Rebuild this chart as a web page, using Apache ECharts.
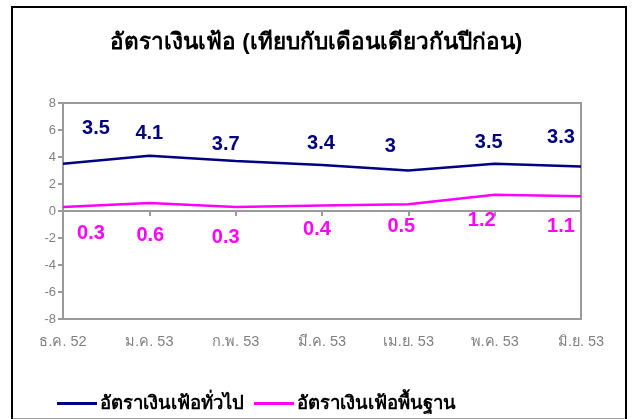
<!DOCTYPE html>
<html><head><meta charset="utf-8">
<script src="https://cdn.jsdelivr.net/npm/echarts@6/dist/echarts.min.js"></script>
<style>html,body{margin:0;padding:0;background:#fff}#c{width:632px;height:419px}</style>
</head><body><div id="c"></div>
<script>
const titleText = 'อัตราเงินเฟ้อ (เทียบกับเดือนเดียวกันปีก่อน)';
const categories = ['ธ.ค. 52','ม.ค. 53','ก.พ. 53','มี.ค. 53','เม.ย. 53','พ.ค. 53','มิ.ย. 53'];
const seriesNames = ['อัตราเงินเฟ้อทั่วไป','อัตราเงินเฟ้อพื้นฐาน'];
const headlineValues = [3.5, 4.1, 3.7, 3.4, 3.0, 3.5, 3.3];
const coreValues = [0.3, 0.6, 0.3, 0.4, 0.5, 1.2, 1.1];
const yTicks = [-8, -6, -4, -2, 0, 2, 4, 6, 8];

const FONT = '"Liberation Sans", Arial, sans-serif';
const headlineLabelShift = [[33,-35],[0,-22],[-10,-17],[-1,-22],[-18,-24],[-6,-21],[-20,-29]];
const coreLabelShift = [[28,27],[1,33],[-10,31],[-5,24],[-7,22],[-13,26],[-20,30]];

function buildData(vals, shifts) {
  return vals.map((v, i) => ({
    value: v,
    label: { offset: shifts[i] }
  }));
}

const chart = echarts.init(document.getElementById('c'), null, {renderer: 'canvas'});
chart.setOption({
  animation: false,
  backgroundColor: '#fff',
  title: {
    text: titleText,
    left: 'center', top: 26,
    textStyle: { fontSize: 22.5, fontWeight: 'bold', color: '#000', fontFamily: FONT }
  },
  legend: {
    left: 57, top: 394, padding: 0,
    itemWidth: 40, itemHeight: 3, itemGap: 10,
    icon: 'rect',
    textStyle: { fontSize: 18.5, fontWeight: 'bold', color: '#000', fontFamily: FONT, padding: [0,0,0,-2] },
    data: seriesNames
  },
  grid: {
    left: 63, top: 103, width: 518, height: 216,
    show: true, borderColor: '#9a9a9a', borderWidth: 2, backgroundColor: 'transparent'
  },
  xAxis: {
    type: 'category', data: categories, boundaryGap: false,
    axisLine: { lineStyle: { color: '#9a9a9a', width: 2 } },
    axisTick: { show: true, length: 5, lineStyle: { color: '#9a9a9a', width: 2 } },
    axisLabel: { color: '#808080', fontSize: 14.5, fontFamily: FONT, margin: 15 },
    splitLine: { show: false }
  },
  yAxis: {
    type: 'value', min: yTicks[0], max: yTicks[yTicks.length-1], interval: 2,
    axisLine: { show: true, lineStyle: { color: '#9a9a9a', width: 2 } },
    axisTick: { show: true, length: 5, lineStyle: { color: '#9a9a9a', width: 2 } },
    axisLabel: { color: '#808080', fontSize: 13, fontFamily: FONT, margin: 7 },
    splitLine: { show: false }
  },
  graphic: [
    { type: 'rect', shape: { x: 12, y: 7, width: 614, height: 430 }, style: { fill: 'none', stroke: '#000', lineWidth: 2 }, z: 100 },
    { type: 'line', shape: { x1: 13, y1: 418.5, x2: 625, y2: 418.5 }, style: { stroke: '#a0a0a0', lineWidth: 1 }, z: 100 }
  ],
  series: [
    {
      name: seriesNames[0], type: 'line',
      data: buildData(headlineValues, headlineLabelShift),
      symbol: 'circle', symbolSize: 0.1, showSymbol: true,
      itemStyle: { color: '#000080' },
      lineStyle: { color: '#000080', width: 2.5 },
      label: { show: true, position: 'inside', color: '#000080', fontSize: 20, fontWeight: 'bold', fontFamily: FONT }
    },
    {
      name: seriesNames[1], type: 'line',
      data: buildData(coreValues, coreLabelShift),
      symbol: 'circle', symbolSize: 0.1, showSymbol: true,
      itemStyle: { color: '#ff00ff' },
      lineStyle: { color: '#ff00ff', width: 2.5 },
      label: { show: true, position: 'inside', color: '#ff00ff', fontSize: 20, fontWeight: 'bold', fontFamily: FONT }
    }
  ]
});
</script></body></html>
